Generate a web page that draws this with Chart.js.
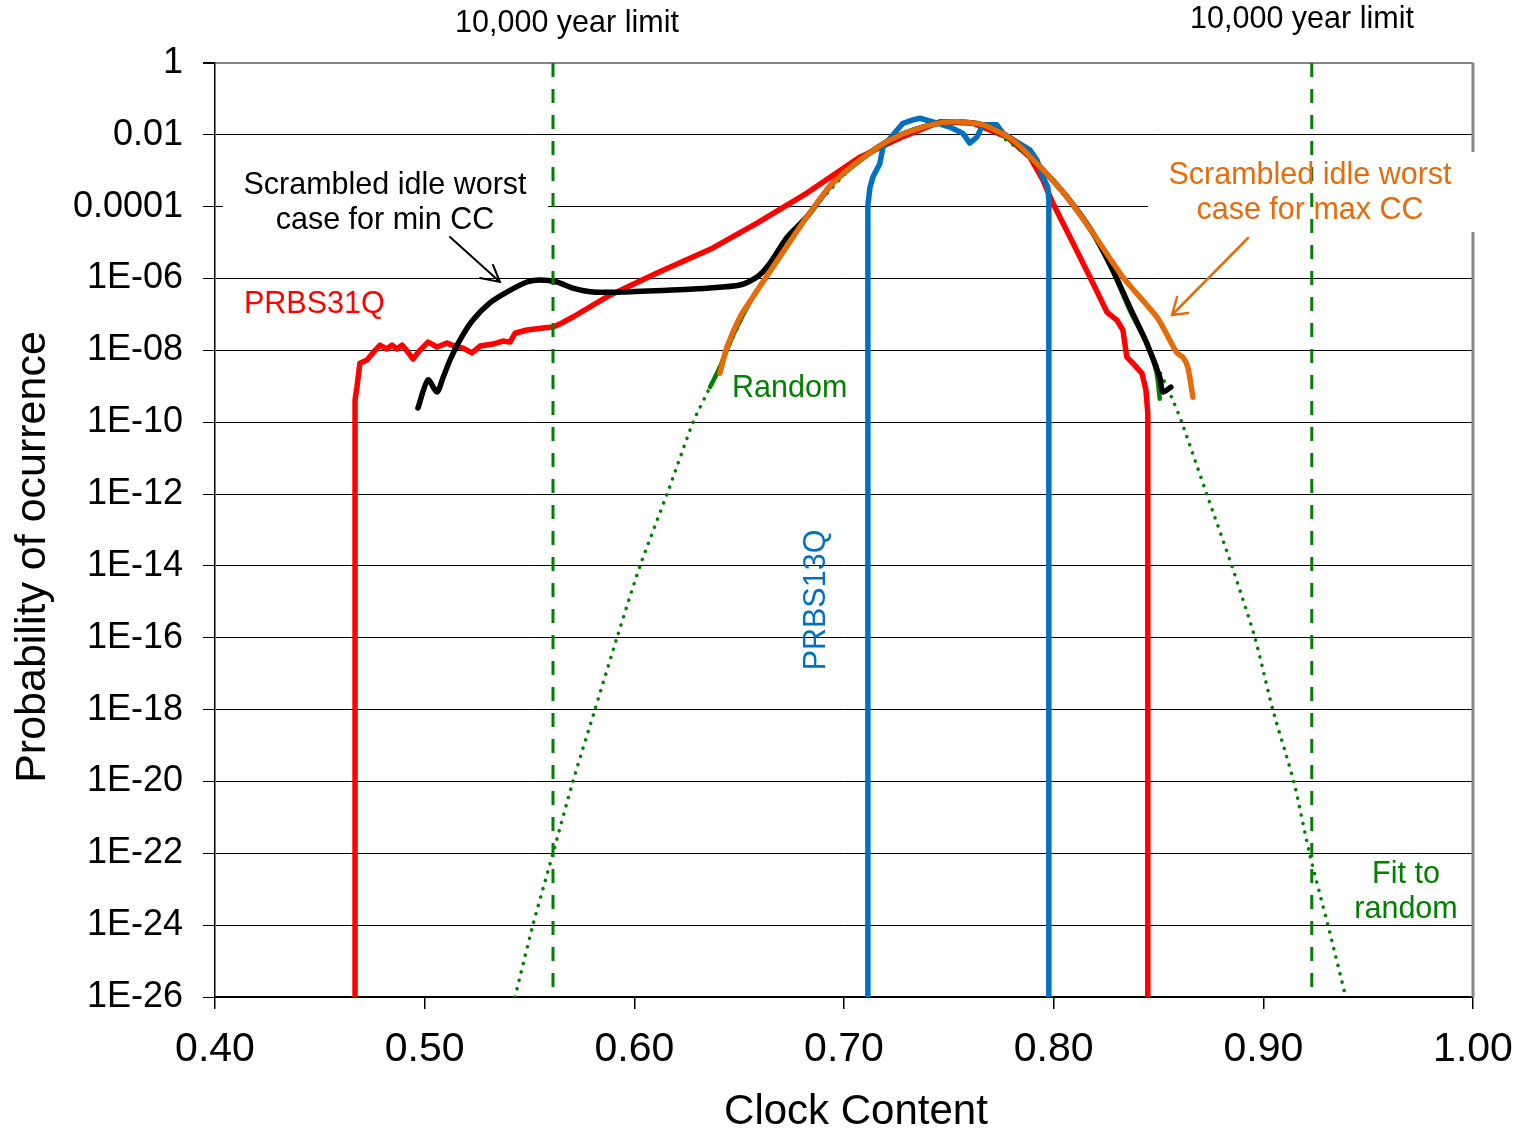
<!DOCTYPE html>
<html>
<head>
<meta charset="utf-8">
<script src="https://cdn.jsdelivr.net/npm/chart.js@4"></script>
<style>
    html, body { margin: 0; padding: 0; background: #fff; }
    #wrap { width: 1519px; height: 1132px; }
</style>
</head>
<body>
<div id="wrap"><canvas id="ccChart" width="1519" height="1132"></canvas></div>
<script>
'use strict';

// axis ticks
var xTickValues = [0.40, 0.50, 0.60, 0.70, 0.80, 0.90, 1.00];
var yTickValues = [1e-26, 1e-24, 1e-22, 1e-20, 1e-18, 1e-16, 1e-14, 1e-12, 1e-10, 1e-8, 1e-6, 1e-4, 1e-2, 1];
var yTickLabels = ['1E-26', '1E-24', '1E-22', '1E-20', '1E-18', '1E-16', '1E-14', '1E-12', '1E-10', '1E-08', '1E-06', '0.0001', '0.01', '1'];

// PRBS31Q
var redX = [0.4668, 0.4668, 0.4677, 0.4691, 0.4725, 0.4753, 0.4787, 0.4820, 0.4844, 0.4868, 0.4892, 0.4920, 0.4944, 0.4978,
    0.5016, 0.5059, 0.5106, 0.5144, 0.5183, 0.5226, 0.5264, 0.5326, 0.5373, 0.5407, 0.5431, 0.5488, 0.5564, 0.5612, 0.5655,
    0.5707, 0.5869, 0.6108, 0.6375, 0.6585, 0.6823, 0.7076, 0.7267, 0.7457, 0.7615, 0.7777, 0.7887, 0.7949, 0.7996, 0.8092,
    0.8187, 0.8254, 0.8301, 0.8330, 0.8349, 0.8378, 0.8421, 0.8440, 0.8449, 0.8449];
var redY = [1e-26, 4.2e-10, 9.5e-10, 4.4e-9, 5.4e-9, 8.5e-9, 1.4e-8, 1.09e-8, 1.4e-8, 1.09e-8, 1.4e-8, 9.0e-9, 5.75e-9, 1.02e-8,
    1.7e-8, 1.24e-8, 1.6e-8, 1.32e-8, 1.16e-8, 8.5e-9, 1.32e-8, 1.5e-8, 1.82e-8, 1.7e-8, 3.0e-8, 3.7e-8, 4.2e-8, 4.5e-8, 5.8e-8,
    8.5e-8, 3.1e-7, 1.43e-6, 7.1e-6, 3.5e-5, 2.4e-4, 2.4e-3, 8.2e-3, 2.3e-2, 2.1e-2, 8.7e-3, 2.4e-3, 5.5e-4, 1.26e-4, 9.8e-6,
    7.5e-7, 1.17e-7, 7.0e-8, 3.7e-8, 6.5e-9, 4.4e-9, 2.3e-9, 7.9e-10, 1.8e-10, 1e-26];

// PRBS13Q
var blueX = [0.7114, 0.7114, 0.7124, 0.7138, 0.7171, 0.7186, 0.7233, 0.7281, 0.7329, 0.7362, 0.7424, 0.7505, 0.7567, 0.7600,
    0.7634, 0.7662, 0.7729, 0.7758, 0.7825, 0.7887, 0.7920, 0.7949, 0.7972, 0.7977, 0.7977];
var blueY = [1e-26, 1.1e-4, 3.5e-4, 6.7e-4, 1.6e-3, 4.6e-3, 9.9e-3, 2.1e-2, 2.6e-2, 2.9e-2, 2.3e-2, 1.65e-2, 1.1e-2, 5.9e-3,
    8.7e-3, 1.9e-2, 1.9e-2, 1.1e-2, 6.3e-3, 3.8e-3, 2.0e-3, 6.7e-4, 3.5e-4, 1.5e-4, 1e-26];

// scrambled idle, worst case for min CC
var blackX = [0.4968, 0.5016, 0.5059, 0.5087, 0.5121, 0.5168, 0.5230, 0.5311, 0.5392, 0.5488, 0.5550, 0.5631, 0.5707, 0.5803,
    0.5946, 0.6184, 0.6346, 0.6504, 0.6585, 0.6647, 0.6728, 0.6823, 0.6947, 0.7076, 0.7219, 0.7376, 0.7519, 0.7662, 0.7805,
    0.7934, 0.8063, 0.8187, 0.8282, 0.8363, 0.8444, 0.8506, 0.8521, 0.8559];
var blackY = [2.5e-10, 1.5e-9, 6.9e-10, 1.7e-9, 5.4e-9, 1.94e-8, 7.0e-8, 2.1e-7, 4.2e-7, 8.0e-7, 9.1e-7, 8.0e-7, 5.4e-7, 4.2e-7,
    4.2e-7, 4.8e-7, 5.4e-7, 6.6e-7, 1.1e-6, 2.7e-6, 1.4e-5, 5.2e-5, 4.6e-4, 2.0e-3, 7.2e-3, 1.65e-2, 2.3e-2, 1.9e-2, 7.2e-3,
    1.3e-3, 1.9e-4, 1.85e-5, 1.73e-6, 1.6e-7, 1.6e-8, 1.8e-9, 7.0e-10, 9.5e-10];

// scrambled idle, worst case for max CC
var orangeX = [0.6408, 0.6442, 0.6504, 0.6566, 0.6661, 0.6823, 0.6947, 0.7076, 0.7219, 0.7376, 0.7519, 0.7662, 0.7805, 0.7934,
    0.8063, 0.8187, 0.8330, 0.8492, 0.8554, 0.8588, 0.8616, 0.8640, 0.8664];
var orangeY = [2.3e-9, 1.24e-8, 8.5e-8, 3.1e-7, 2.1e-6, 5.2e-5, 4.6e-4, 2.0e-3, 7.2e-3, 1.65e-2, 2.3e-2, 1.9e-2, 7.2e-3, 1.3e-3,
    1.9e-4, 1.85e-5, 1.1e-6, 8.5e-8, 1.94e-8, 8.5e-9, 6.5e-9, 3.4e-9, 5.0e-10];

// Random
var randomX = [0.6361, 0.6408, 0.6475, 0.6566, 0.6661, 0.6823, 0.6947, 0.7076, 0.7219, 0.7376, 0.7519, 0.7662, 0.7805, 0.7934,
    0.8063, 0.8187, 0.8282, 0.8363, 0.8444, 0.8490, 0.8506];
var randomY = [9.5e-10, 3.4e-9, 3.0e-8, 3.1e-7, 2.1e-6, 5.2e-5, 4.6e-4, 2.0e-3, 7.2e-3, 1.65e-2, 2.3e-2, 1.9e-2, 7.2e-3, 1.3e-3,
    1.9e-4, 1.85e-5, 1.6e-6, 1.3e-7, 1.5e-8, 2.5e-9, 4.5e-10];

// Fit to random
var fitX = [0.5431, 0.5516, 0.5612, 0.5707, 0.5812, 0.5917, 0.6027, 0.6156, 0.6280, 0.6361, 0.6566, 0.6823, 0.7076, 0.7376,
    0.7519, 0.7662, 0.7934, 0.8187, 0.8363, 0.8564, 0.8611, 0.8730, 0.8850, 0.8960, 0.9045, 0.9145, 0.9220, 0.9308, 0.9393];
var fitY = [1e-26, 1e-24, 1e-22, 1e-20, 1e-18, 1e-16, 1e-14, 1e-12, 1e-10, 9.5e-10, 3.1e-7, 5.2e-5, 2.0e-3, 1.65e-2,
    2.3e-2, 1.9e-2, 1.3e-3, 1.85e-5, 1.6e-7, 4.7e-10, 1e-10, 1e-12, 1e-14, 1e-16, 1e-18, 1e-20, 1e-22, 1e-24, 1e-26];

// 10,000 year limit
var limitX = [0.5612, 0.9231];
var limitY = [1, 1e-26];

var FONT = "'Liberation Sans', Arial, sans-serif";
var GREEN = '#008000';
var ORANGE = '#E46C0A';
var BLUE = '#0070C0';

function toPoints(xs, ys) {
    var pts = [];
    for (var i = 0; i < xs.length; i++) {
        pts.push({x: xs[i], y: ys[i]});
    }
    return pts;
}

function lineSet(label, xs, ys, color, width, order, tension) {
    return {
        label: label,
        data: toPoints(xs, ys),
        showLine: true,
        borderColor: color,
        backgroundColor: color,
        borderWidth: width,
        pointRadius: 0,
        tension: tension,
        borderJoinStyle: 'round',
        borderCapStyle: 'round',
        order: order
    };
}

function text(ctx, str, x, y, color, align) {
    ctx.fillStyle = color;
    ctx.textAlign = align || 'center';
    ctx.fillText(str, x, y);
}

function arrow(ctx, x1, y1, x2, y2, h1x, h1y, h2x, h2y, color, width) {
    ctx.strokeStyle = color;
    ctx.lineWidth = width;
    ctx.lineCap = 'round';
    ctx.beginPath();
    ctx.moveTo(x1, y1);
    ctx.lineTo(x2, y2);
    ctx.moveTo(h1x, h1y);
    ctx.lineTo(x2, y2);
    ctx.lineTo(h2x, h2y);
    ctx.stroke();
}

var annotationPlugin = {
    id: 'annotations',
    beforeDatasetsDraw: function (chart) {
        var ctx = chart.ctx;
        var area = chart.chartArea;
        ctx.save();
        // right frame
        ctx.strokeStyle = '#868686';
        ctx.lineWidth = 3;
        ctx.beginPath();
        ctx.moveTo(area.right, area.top);
        ctx.lineTo(area.right, area.bottom);
        ctx.stroke();
        // label backgrounds
        ctx.fillStyle = '#ffffff';
        ctx.fillRect(223, 168, 325, 72);
        ctx.fillRect(1148, 152, 335, 80);
        ctx.restore();
    },
    afterDatasetsDraw: function (chart) {
        var ctx = chart.ctx;
        ctx.save();
        ctx.textBaseline = 'middle';
        ctx.font = '30.5px ' + FONT;

        text(ctx, '10,000 year limit', 567, 24, '#000');
        text(ctx, '10,000 year limit', 1302, 20, '#000');
        text(ctx, 'Scrambled idle worst', 385, 186, '#000');
        text(ctx, 'case for min CC', 385, 221, '#000');
        text(ctx, 'PRBS31Q', 244, 305, '#FF0000', 'left');
        text(ctx, 'Random', 732, 389, GREEN, 'left');
        text(ctx, 'Scrambled idle worst', 1310, 176, ORANGE);
        text(ctx, 'case for max CC', 1310, 211, ORANGE);
        text(ctx, 'Fit to', 1406, 875, GREEN);
        text(ctx, 'random', 1406, 910, GREEN);

        ctx.save();
        ctx.translate(817, 600);
        ctx.rotate(-Math.PI / 2);
        text(ctx, 'PRBS13Q', 0, 0, BLUE);
        ctx.restore();

        arrow(ctx, 450, 237, 500, 282, 493, 265, 480, 278, '#000', 2);
        arrow(ctx, 1248, 238, 1172, 315, 1177, 297, 1188, 313, ORANGE, 2.5);

        // axis titles
        ctx.font = '42px ' + FONT;
        text(ctx, 'Clock Content', 856, 1112, '#000');
        ctx.translate(33, 557);
        ctx.rotate(-Math.PI / 2);
        ctx.font = '43px ' + FONT;
        text(ctx, 'Probability of ocurrence', 0, 0, '#000');
        ctx.restore();
    }
};

var limitStyle = {borderDash: [14, 12], borderCapStyle: 'butt'};

var datasets = [
    Object.assign(lineSet('10,000 year limit', [limitX[0], limitX[0]], limitY, GREEN, 3, 0, 0), limitStyle),
    Object.assign(lineSet('10,000 year limit', [limitX[1], limitX[1]], limitY, GREEN, 3, 0, 0), limitStyle),
    lineSet('Scrambled idle worst case for max CC', orangeX, orangeY, ORANGE, 5.5, 1, 0.25),
    lineSet('Scrambled idle worst case for min CC', blackX, blackY, '#000000', 5.5, 2, 0.25),
    Object.assign(lineSet('Fit to random', fitX, fitY, GREEN, 3.5, 3, 0.2), {borderDash: [0.1, 8.5], borderCapStyle: 'round'}),
    lineSet('Random', randomX, randomY, GREEN, 4.5, 4, 0.25),
    lineSet('PRBS13Q', blueX, blueY, BLUE, 5.5, 5, 0),
    lineSet('PRBS31Q', redX, redY, '#FF0000', 5.5, 6, 0)
];

var chart = new Chart(document.getElementById('ccChart').getContext('2d'), {
    type: 'scatter',
    data: {datasets: datasets},
    plugins: [annotationPlugin],
    options: {
        responsive: false,
        animation: false,
        layout: {padding: {top: 63, right: 46, left: 0, bottom: 0}},
        plugins: {
            legend: {display: false},
            tooltip: {enabled: false}
        },
        scales: {
            x: {
                type: 'linear',
                min: 0.4,
                max: 1.0,
                afterBuildTicks: function (scale) {
                    scale.ticks = xTickValues.map(function (v) { return {value: v}; });
                },
                afterFit: function (scale) {
                    scale.height = 135;
                    scale.paddingLeft = 0;
                    scale.paddingRight = 0;
                },
                ticks: {
                    color: '#000',
                    font: {family: FONT, size: 41},
                    padding: 16,
                    maxRotation: 0,
                    autoSkip: false,
                    callback: function (value) {
                        return Number(value).toFixed(2);
                    }
                },
                grid: {
                    drawOnChartArea: false,
                    color: '#000',
                    lineWidth: 1.5,
                    tickLength: 12
                },
                border: {color: '#000', width: 1.5}
            },
            y: {
                type: 'logarithmic',
                min: 1e-26,
                max: 1,
                afterBuildTicks: function (scale) {
                    scale.ticks = yTickValues.map(function (v) { return {value: v}; });
                },
                afterFit: function (scale) {
                    scale.width = 215;
                    scale.paddingTop = 0;
                    scale.paddingBottom = 0;
                },
                ticks: {
                    color: '#000',
                    font: {family: FONT, size: 36},
                    padding: 20,
                    autoSkip: false,
                    callback: function (value) {
                        var i = yTickValues.indexOf(value);
                        return i >= 0 ? yTickLabels[i] : '';
                    }
                },
                grid: {
                    color: function (c) {
                        return c.tick && c.tick.value === 1 ? '#868686' : '#000';
                    },
                    lineWidth: function (c) {
                        return c.tick && c.tick.value === 1 ? 2 : 1;
                    },
                    tickColor: '#000',
                    tickLength: 12
                },
                border: {color: '#000', width: 1.5}
            }
        }
    }
});
</script>
</body>
</html>
